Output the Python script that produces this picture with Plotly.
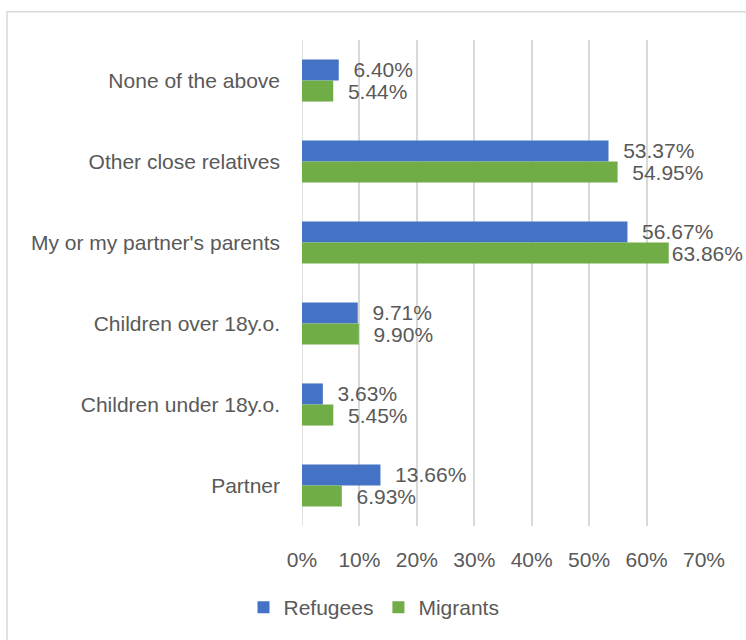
import plotly.graph_objects as go

# Categories listed top to bottom as they appear in the chart
categories = [
    "None of the above",
    "Other close relatives",
    "My or my partner's parents",
    "Children over 18y.o.",
    "Children under 18y.o.",
    "Partner",
]
refugees = [6.40, 53.37, 56.67, 9.71, 3.63, 13.66]
migrants = [5.44, 54.95, 63.86, 9.90, 5.45, 6.93]
x_ticks = [0, 10, 20, 30, 40, 50, 60, 70]
x_tick_labels = [f"{v}%" for v in x_ticks]

FONT = "Liberation Sans"
FONT_SIZE = 21
TEXT_COLOR = "#595959"
GRID_COLOR = "#D9D9D9"

W, H = 746, 640
L, R, T, B = 302, 42, 40, 111
pw, ph = W - L - R, H - T - B
X_MAX = 70


def px_to_paper_x(px):
    return (px - L) / pw


def px_to_paper_y(py):
    return (H - B - py) / ph


def bar_label(v):
    # labels sit a little off the bar end, but are pulled in when they
    # would otherwise run past the right edge of the figure
    label = f"{v:.2f}%"
    end_px = L + v / X_MAX * pw
    approx_w = 0.57 * FONT_SIZE * len(label)
    pad = "  " if end_px + 14 + approx_w < W - 2 else ""
    return pad + label


fig = go.Figure()
for name, values, color in [
    ("Refugees", refugees, "#4472C4"),
    ("Migrants", migrants, "#70AD47"),
]:
    fig.add_trace(go.Bar(
        name=name,
        y=categories,
        x=values,
        orientation="h",
        marker=dict(color=color, line=dict(width=0)),
        text=[bar_label(v) for v in values],
        texttemplate="%{text}",
        textposition="outside",
        constraintext="none",
        cliponaxis=False,
        textfont=dict(family=FONT, size=FONT_SIZE, color=TEXT_COLOR),
    ))

fig.update_layout(
    width=W,
    height=H,
    margin=dict(l=L, r=R, t=T, b=B),
    paper_bgcolor="white",
    plot_bgcolor="white",
    barmode="group",
    bargap=0.48,
    bargroupgap=0,
    font=dict(family=FONT, size=FONT_SIZE, color=TEXT_COLOR),
    showlegend=True,
    legend=dict(
        orientation="h",
        x=px_to_paper_x(374),
        xanchor="center",
        y=px_to_paper_y(611),
        yanchor="middle",
        font=dict(family=FONT, size=FONT_SIZE, color=TEXT_COLOR),
        bgcolor="rgba(0,0,0,0)",
    ),
    xaxis=dict(
        range=[0, X_MAX],
        tickvals=x_ticks,
        ticktext=x_tick_labels,
        showgrid=True,
        gridcolor=GRID_COLOR,
        gridwidth=1.5,
        zeroline=False,
        showline=False,
        ticks="",
        ticklabelstandoff=19,
        tickfont=dict(family=FONT, size=FONT_SIZE, color=TEXT_COLOR),
        fixedrange=True,
    ),
    yaxis=dict(
        autorange="reversed",
        showgrid=False,
        zeroline=False,
        showline=False,
        ticks="",
        ticklabelstandoff=21,
        tickfont=dict(family=FONT, size=FONT_SIZE, color=TEXT_COLOR),
        fixedrange=True,
    ),
    shapes=[
        # 0% baseline drawn as a gridline
        dict(
            type="line", xref="x", yref="paper",
            x0=0, x1=0, y0=0, y1=1,
            line=dict(color=GRID_COLOR, width=1.5),
            layer="below",
        ),
        # chart frame
        dict(
            type="rect", xref="paper", yref="paper",
            x0=px_to_paper_x(7), x1=px_to_paper_x(760),
            y0=px_to_paper_y(660), y1=px_to_paper_y(11.5),
            line=dict(color=GRID_COLOR, width=1.5),
            fillcolor="rgba(0,0,0,0)",
            layer="below",
        ),
    ],
)

fig.write_html("out.html")
